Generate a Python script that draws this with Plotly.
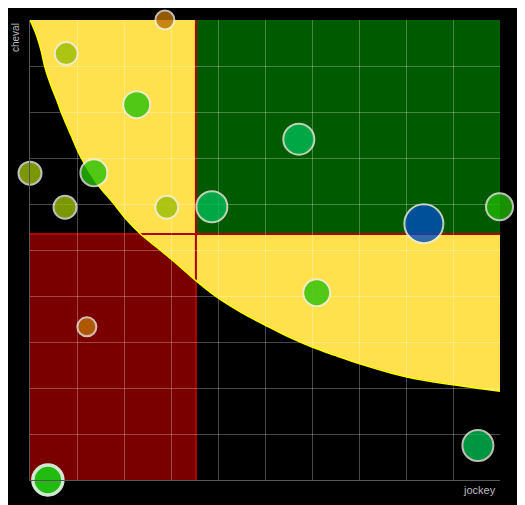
import plotly.graph_objects as go

# bubbles (jockey score vs cheval score)
jockey = [2.87, 0.77, 2.27, 5.72, 0.0, 1.36, 0.745, 2.91, 3.87, 8.38, 9.99, 6.10, 1.21, 9.53, 0.38]
cheval = [10.0, 9.27, 8.16, 7.41, 6.67, 6.68, 5.93, 5.93, 5.94, 5.57, 5.94, 4.07, 3.33, 0.75, 0.0]
sizes = [19, 23, 27, 31, 23, 27, 23, 23, 31, 39, 27, 27, 19, 31, 30]
colors = ["#bb7000", "#9abe05", "#26c208", "#00bb57", "#9abe05", "#26c208", "#9abe05",
          "#9abe05", "#00bb57", "#004dc0", "#21b400", "#26c208", "#bb7000", "#00bb50", "#22bb11"]
opac = [0.8] * 14 + [1.0]
line_w = [2] * 14 + [3.5]
line_c = ["#eeeee4"] * 14 + ["#cfe8cf"]

# limit curve
curve_x = [0, 0.134, 0.24, 0.313, 0.44, 0.581, 0.666, 0.866, 1.09, 1.42, 1.77, 2.06, 2.34,
           2.77, 3.19, 3.51, 3.97, 4.5, 5.0, 5.5, 6.0, 6.49, 6.98, 8.02, 9.0, 10.0]
curve_y = [10, 9.68, 9.32, 8.99, 8.59, 8.23, 7.99, 7.51, 7.0, 6.45, 6.02, 5.65, 5.36,
           5.0, 4.64, 4.35, 3.98, 3.64, 3.37, 3.11, 2.89, 2.71, 2.54, 2.24, 2.07, 1.93]

split_x = 3.53
split_y = 5.35

path = "M " + " L ".join("%s,%s" % (a, b) for a, b in zip(curve_x, curve_y)) + " L 10,10 Z"

fig = go.Figure()

fig.add_trace(go.Scatter(x=curve_x, y=curve_y, mode="lines", line=dict(color="#ffff00", width=1.5, shape="spline"),
                         hoverinfo="skip", showlegend=False))

fig.add_trace(go.Scatter(x=jockey, y=cheval, mode="markers", cliponaxis=False, showlegend=False,
                         marker=dict(size=sizes, color=colors, opacity=opac,
                                     line=dict(color=line_c, width=line_w))))

shapes = [
    dict(type="rect", x0=0, x1=split_x, y0=0, y1=split_y, fillcolor="#7a0000", line_width=0, layer="below"),
    dict(type="path", path=path, fillcolor="#ffe14d", line_width=0, layer="below"),
    dict(type="rect", x0=split_x, x1=10, y0=split_y, y1=10, fillcolor="#005a00", line_width=0, layer="below"),
    dict(type="line", x0=split_x, x1=split_x, y0=0, y1=10, line=dict(color="#b00000", width=2), layer="below"),
    dict(type="line", x0=0, x1=10, y0=split_y, y1=split_y, line=dict(color="#b00000", width=2), layer="below"),
]

axis = dict(range=[0, 10], dtick=1, showgrid=True, gridcolor="rgba(255,255,255,0.28)", gridwidth=1,
            zeroline=False, showticklabels=False, ticks="", showline=True, linecolor="#555555",
            linewidth=1, fixedrange=True)

fig.update_layout(
    width=517, height=497,
    margin=dict(l=22, r=25, t=12, b=25),
    paper_bgcolor="#000000", plot_bgcolor="#000000",
    xaxis=axis, yaxis=axis,
    shapes=shapes,
    annotations=[
        dict(text="jockey", xref="paper", yref="paper", x=1, y=0, xanchor="right", yanchor="top",
             xshift=-2, yshift=-2, showarrow=False,
             font=dict(family="Arial, Liberation Sans", size=11, color="#bbbbbb")),
        dict(text="cheval", xref="paper", yref="paper", x=0, y=1, xanchor="right", yanchor="top",
             xshift=-7, yshift=-1, textangle=-90, showarrow=False,
             font=dict(family="Arial, Liberation Sans", size=10, color="#bbbbbb")),
    ],
)

fig.write_html("out.html")
